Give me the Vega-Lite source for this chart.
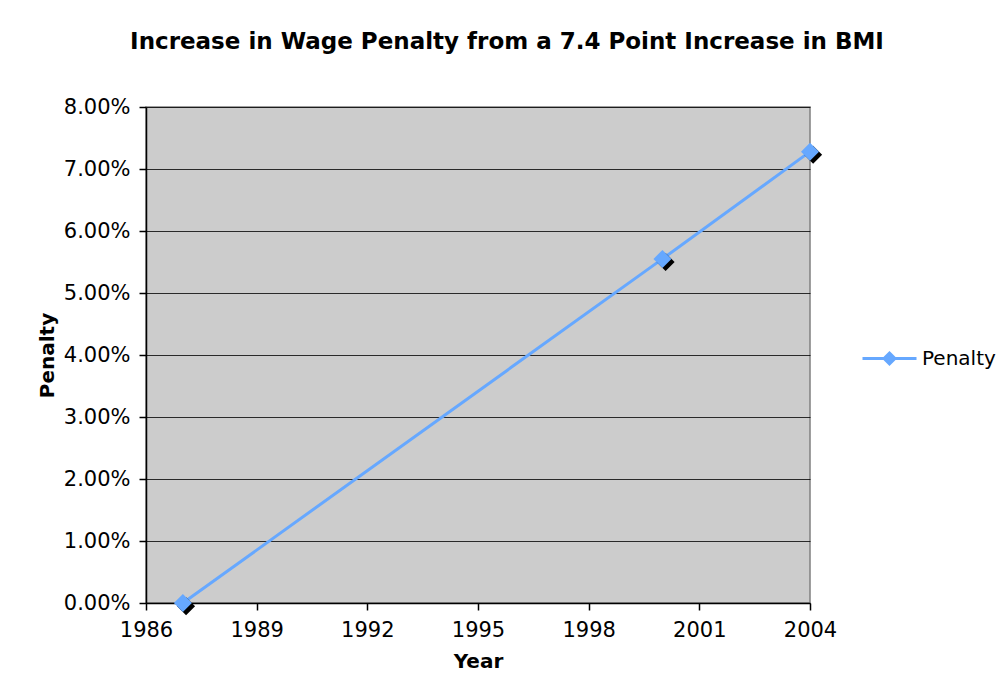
{
  "$schema": "https://vega.github.io/schema/vega-lite/v6.json",
  "width": 664,
  "height": 496,
  "autosize": {"type": "none"},
  "padding": {"left": 146, "top": 107, "right": 188, "bottom": 95},
  "background": "white",
  "title": {
    "text": "Increase in Wage Penalty from a 7.4 Point Increase in BMI",
    "font": "DejaVu Sans",
    "fontSize": 23,
    "fontWeight": "bold",
    "color": "#000000",
    "anchor": "middle",
    "frame": "group",
    "dx": 29,
    "offset": 42
  },
  "config": {
    "view": {"fill": "#cccccc", "stroke": "#808080", "strokeWidth": 1.5},
    "axis": {
      "labelFont": "DejaVu Sans",
      "labelFontSize": 21,
      "labelColor": "#000000",
      "labelFlush": false,
      "titleFont": "DejaVu Sans",
      "titleFontSize": 20,
      "titleFontWeight": "bold",
      "titleColor": "#000000",
      "domainColor": "#000000",
      "domainWidth": 1.5,
      "tickColor": "#000000",
      "tickSize": 7,
      "tickWidth": 1.5
    },
    "legend": {
      "labelFont": "DejaVu Sans",
      "labelFontSize": 20,
      "labelColor": "#000000"
    }
  },
  "data": {
    "values": [
      {"year": 1987, "penalty": 0.0, "series": "Penalty"},
      {"year": 2000, "penalty": 0.0555, "series": "Penalty"},
      {"year": 2004, "penalty": 0.0728, "series": "Penalty"}
    ]
  },
  "encoding": {
    "x": {
      "field": "year",
      "type": "quantitative",
      "scale": {"domain": [1986, 2004], "nice": false, "zero": false},
      "axis": {
        "title": "Year",
        "values": [1986, 1989, 1992, 1995, 1998, 2001, 2004],
        "format": "d",
        "grid": false,
        "labelPadding": 9,
        "titlePadding": 11
      }
    },
    "y": {
      "field": "penalty",
      "type": "quantitative",
      "scale": {"domain": [0, 0.08], "nice": false},
      "axis": {
        "title": "Penalty",
        "values": [0, 0.01, 0.02, 0.03, 0.04, 0.05, 0.06, 0.07, 0.08],
        "format": ".2%",
        "grid": true,
        "gridColor": "#000000",
        "gridWidth": 1,
        "gridOpacity": 0.8,
        "labelPadding": 9,
        "titlePadding": 6
      }
    }
  },
  "layer": [
    {
      "mark": {"type": "line", "interpolate": "monotone", "strokeWidth": 3},
      "encoding": {
        "color": {
          "field": "series",
          "type": "nominal",
          "scale": {"range": ["#66a8ff"]},
          "legend": {
            "title": null,
            "orient": "none",
            "legendX": 715,
            "legendY": 223,
            "padding": 0,
            "symbolType": "M-1,0 H1 M0,-0.2 L0.2,0 L0,0.2 L-0.2,0 Z",
            "symbolSize": 2916,
            "symbolStrokeWidth": 3,
            "symbolFillColor": "#66a8ff",
            "symbolStrokeColor": "#66a8ff",
            "labelOffset": 4
          }
        }
      }
    },
    {
      "mark": {
        "type": "point",
        "shape": "M0.35,-0.65 L1.35,0.35 L0.35,1.35 L-0.65,0.35 Z",
        "filled": true,
        "color": "#000000",
        "opacity": 1,
        "size": 324
      }
    },
    {
      "mark": {
        "type": "point",
        "shape": "diamond",
        "filled": true,
        "color": "#66a8ff",
        "opacity": 1,
        "size": 324
      }
    }
  ]
}
